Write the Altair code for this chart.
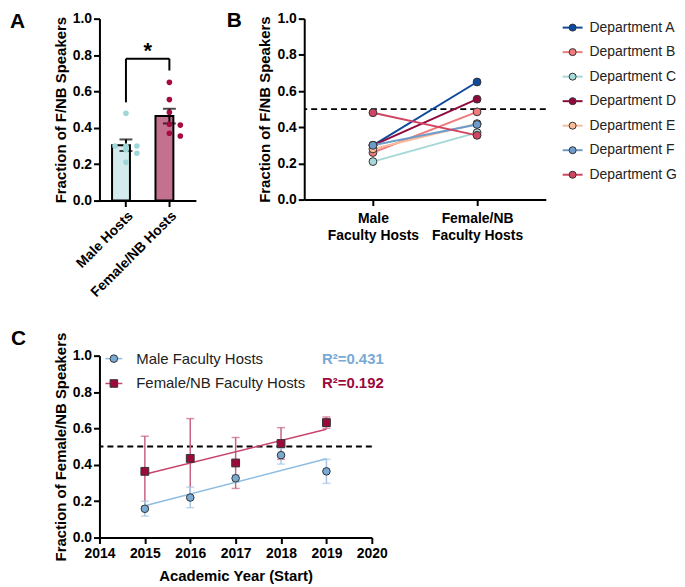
import altair as alt
import pandas as pd

FONT = "Liberation Sans"

# ---------------- data ----------------
departments = ["Department A", "Department B", "Department C", "Department D",
               "Department E", "Department F", "Department G"]
dept_colors = ["#0d4a9e", "#f07b7d", "#a5d8d8", "#8f0a3c", "#f9bb9a", "#6d9ccc", "#d24562"]
male_frac = [0.30, 0.26, 0.21, 0.30, 0.28, 0.30, 0.48]
female_frac = [0.65, 0.485, 0.37, 0.555, 0.42, 0.415, 0.355]

groups_a = ["Male Hosts", "Female/NB Hosts"]
groups_b = ["Male Faculty Hosts", "Female/NB Faculty Hosts"]
bar_fill = ["#d3ebec", "#c47190"]
dot_color = ["#9fd7d9", "#a50a41"]

bracket_top = 0.78
bracket_left_bottom = 0.54
bracket_right_bottom = 0.715

years = [2015, 2016, 2017, 2018, 2019]
male_mean = [0.158, 0.220, 0.326, 0.453, 0.364]
male_lo = [0.118, 0.164, 0.305, 0.404, 0.298]
male_hi = [0.200, 0.277, 0.345, 0.490, 0.430]
female_mean = [0.364, 0.435, 0.410, 0.517, 0.632]
female_lo = [0.171, 0.216, 0.270, 0.430, 0.601]
female_hi = [0.557, 0.654, 0.550, 0.604, 0.663]
series_names = ["Male Faculty Hosts", "Female/NB Faculty Hosts"]
r2_labels = ["R²=0.431", "R²=0.192"]

year_ticks = [2014, 2015, 2016, 2017, 2018, 2019, 2020]
frac_ticks = [0.0, 0.2, 0.4, 0.6, 0.8, 1.0]


def jitter(vals, step=11, tol=0.035):
    order = sorted(range(len(vals)), key=lambda i: -vals[i])
    offs = [0] * len(vals)
    placed = []
    for i in order:
        n = sum(1 for j in placed if abs(vals[j] - vals[i]) < tol)
        offs[i] = [0, step, -step][n % 3]
        placed.append(i)
    return offs


def letter(t, x, y):
    return alt.Chart(pd.DataFrame({"t": [t]})).mark_text(
        fontSize=21, fontWeight="bold", align="left", baseline="alphabetic", color="black").encode(
        x=alt.value(x), y=alt.value(y), text="t:N")


# ---------------- panel A ----------------
WA, HA = 97, 183
A_TITLE = "Fraction of F/NB Speakers"
dfA = pd.DataFrame({
    "group": [groups_a[0]] * len(male_frac) + [groups_a[1]] * len(female_frac),
    "dept": departments + departments,
    "frac": male_frac + female_frac,
    "jit": jitter(male_frac) + jitter(female_frac),
})

xsA = alt.Scale(domain=groups_a, paddingInner=0.36, paddingOuter=0.29)
axA = alt.Axis(title=None, labelAngle=-45, labelFontSize=14)
xA = alt.X("group:N", scale=xsA, axis=axA)
ysA = alt.Scale(domain=[0, 1], nice=False)
ayA = alt.Axis(values=frac_ticks, format=".1f", title=A_TITLE)


def YA(field):
    return alt.Y(field, scale=ysA, axis=ayA)


barsA = alt.Chart(dfA).mark_bar(stroke="black", strokeWidth=2).encode(
    x=xA, y=YA("mean(frac):Q"),
    fill=alt.Fill("group:N", scale=alt.Scale(domain=groups_a, range=bar_fill), legend=None),
)
errA = alt.Chart(dfA).mark_errorbar(extent="stderr", ticks=True, size=13, thickness=2,
                                    color="black").encode(x=xA, y=YA("frac:Q"))
dotsA = alt.Chart(dfA).mark_circle(size=32, opacity=1).encode(
    x=xA, y=YA("frac:Q"),
    xOffset=alt.XOffset("jit:Q", scale=alt.Scale(domain=[-14, 14])),
    color=alt.Color("group:N", scale=alt.Scale(domain=groups_a, range=dot_color), legend=None),
)
brL = alt.Chart(pd.DataFrame({"group": [groups_a[0]], "y1": [bracket_left_bottom],
                              "y2": [bracket_top]})).mark_rule(color="black", strokeWidth=2).encode(
    x=xA, y=YA("y1:Q"), y2="y2:Q")
brR = alt.Chart(pd.DataFrame({"group": [groups_a[1]], "y1": [bracket_right_bottom],
                              "y2": [bracket_top]})).mark_rule(color="black", strokeWidth=2).encode(
    x=xA, y=YA("y1:Q"), y2="y2:Q")
brH = alt.Chart(pd.DataFrame({"group": [groups_a[0]], "g2": [groups_a[1]],
                              "y1": [bracket_top]})).mark_rule(color="black", strokeWidth=2).encode(
    x=xA, x2="g2:N", y=YA("y1:Q"))
star = alt.Chart(pd.DataFrame({"t": ["*"], "y1": [bracket_top]})).mark_text(
    fontSize=22, fontWeight="bold", baseline="alphabetic", dy=-1, color="black").encode(
    x=alt.value(WA / 2), y=YA("y1:Q"), text="t:N")

chartA = alt.layer(barsA, errA, brL, brR, brH, star, dotsA, letter("A", -90, 9)).properties(
    width=WA, height=HA)

# ---------------- panel B ----------------
WB, HB = 243, 182
dfB = pd.DataFrame({
    "dept": departments + departments,
    "host": [groups_b[0]] * len(departments) + [groups_b[1]] * len(departments),
    "frac": male_frac + female_frac,
})
colorB = alt.Color("dept:N", scale=alt.Scale(domain=departments, range=dept_colors), legend=None)
xB = alt.X("host:N", scale=alt.Scale(type="point", domain=groups_b, padding=0.66),
           axis=alt.Axis(title=None, labelAngle=0, labelPadding=6, labelLineHeight=17,
                         labelExpr="datum.value == 'Male Faculty Hosts' ? ['Male', 'Faculty Hosts'] : ['Female/NB', 'Faculty Hosts']"))
refB = alt.Chart(pd.DataFrame({"frac": [0.5]})).mark_rule(
    color="black", strokeWidth=2, strokeDash=[6, 4]).encode(y=YA("frac:Q"))
linesB = alt.Chart(dfB).mark_line(strokeWidth=2).encode(x=xB, y=YA("frac:Q"), color=colorB,
                                                        detail="dept:N")
ptsB = alt.Chart(dfB).mark_circle(size=62, opacity=1, stroke="#333333", strokeWidth=1).encode(
    x=xB, y=YA("frac:Q"), color=colorB)
chartB = alt.layer(refB, linesB, ptsB, letter("B", -78, 8)).properties(width=WB, height=HB)

# legend for B
dfL = pd.DataFrame({"dept": departments})
yL = alt.Y("dept:N", scale=alt.Scale(type="point", domain=departments, range=[9, 157], padding=0),
           axis=None)
legRule = alt.Chart(dfL).mark_rule(strokeWidth=2).encode(
    x=alt.value(0), x2=alt.value(20), y=yL, color=colorB)
legPt = alt.Chart(dfL).mark_circle(size=50, opacity=1, stroke="#333333", strokeWidth=1).encode(
    x=alt.value(10), y=yL, color=colorB)
legTxt = alt.Chart(dfL).mark_text(align="left", baseline="middle", fontSize=14, color="#222222").encode(
    x=alt.value(27), y=yL, text="dept:N")
legendB = alt.layer(legRule, legPt, legTxt).properties(width=112, height=HB)

# ---------------- panel C ----------------
WC, HC = 274, 183
C_TITLE = "Fraction of Female/NB Speakers"
dfM = pd.DataFrame({"year": years, "mean": male_mean, "lo": male_lo, "hi": male_hi})
dfF = pd.DataFrame({"year": years, "mean": female_mean, "lo": female_lo, "hi": female_hi})

xC = alt.X("year:Q", scale=alt.Scale(domain=[2014, 2020], nice=False, zero=False),
           axis=alt.Axis(values=year_ticks, format="d", title="Academic Year (Start)",
                         labelPadding=3, titlePadding=8))
ysc = alt.Scale(domain=[0, 1], nice=False)
ayC = alt.Axis(values=frac_ticks, format=".1f", title=C_TITLE)


def YC(field):
    return alt.Y(field, scale=ysc, axis=ayC)


M_PT, M_LINE, M_ERR = "#78aad4", "#8ebde2", "#a7c7e4"
F_PT, F_LINE, F_ERR = "#9c0a3c", "#c8446b", "#c86482"

refC = alt.Chart(pd.DataFrame({"mean": [0.5]})).mark_rule(
    color="black", strokeWidth=2, strokeDash=[6, 4]).encode(y=YC("mean:Q"))


def err_layer(df, col):
    return alt.Chart(df).mark_errorbar(ticks=True, size=8, thickness=1.5, color=col).encode(
        x=xC, y=YC("lo:Q"), y2="hi:Q")


def reg_layer(df, col):
    return alt.Chart(df).transform_regression("year", "mean").mark_line(
        color=col, strokeWidth=1.5).encode(x=xC, y=YC("mean:Q"))


ptsM = alt.Chart(dfM).mark_point(shape="circle", filled=True, fill=M_PT, stroke="#333333",
                                 strokeWidth=1, size=58, opacity=1).encode(x=xC, y=YC("mean:Q"))
ptsF = alt.Chart(dfF).mark_point(shape="square", filled=True, fill=F_PT, stroke="#333333",
                                 strokeWidth=1, size=62, opacity=1).encode(x=xC, y=YC("mean:Q"))

one = pd.DataFrame({"k": [0]})
legC = []
for i, (name, line_c, pt_c, shp) in enumerate([(series_names[0], M_LINE, M_PT, "circle"),
                                                (series_names[1], F_LINE, F_PT, "square")]):
    yy = 3 + 25 * i
    legC.append(alt.Chart(one).mark_rule(color=line_c, strokeWidth=1.5).encode(
        x=alt.value(6), x2=alt.value(23), y=alt.value(yy)))
    legC.append(alt.Chart(one).mark_point(shape=shp, filled=True, fill=pt_c, stroke="#333333",
                                          strokeWidth=1, size=58, opacity=1).encode(
        x=alt.value(14.5), y=alt.value(yy)))
    legC.append(alt.Chart(pd.DataFrame({"t": [name]})).mark_text(
        align="left", baseline="middle", fontSize=15, color="#222222").encode(
        x=alt.value(37), y=alt.value(yy), text="t:N"))
    legC.append(alt.Chart(pd.DataFrame({"t": [r2_labels[i]]})).mark_text(
        align="right", baseline="middle", fontSize=15, fontWeight="bold",
        color=[M_PT, F_PT][i]).encode(x=alt.value(286), y=alt.value(yy), text="t:N"))

chartC = alt.layer(refC, err_layer(dfF, F_ERR), err_layer(dfM, M_ERR),
                   reg_layer(dfM, M_LINE), reg_layer(dfF, F_LINE),
                   ptsM, ptsF, *legC, letter("C", -89, -11)).properties(width=WC, height=HC)

# ---------------- compose ----------------
indep = dict(color="independent", fill="independent", x="independent", y="independent")
right = alt.hconcat(chartB, legendB, spacing=15).resolve_scale(**indep)
top = alt.hconcat(chartA, right, spacing=31).resolve_scale(**indep)
chart = alt.vconcat(top, chartC, spacing=28).properties(
    padding={"left": 2, "top": 0, "right": 0, "bottom": 0}).resolve_scale(**indep
).configure_view(stroke=None).configure_axis(
    domainColor="black", domainWidth=2, tickColor="black", tickWidth=2, tickSize=6,
    labelColor="black", labelFont=FONT, labelFontSize=14, labelFontWeight="bold",
    labelPadding=2, labelOverlap=False, labelFlush=False,
    titleFont=FONT, titleFontSize=15, titleFontWeight="bold",
    titleColor="black", titlePadding=4, grid=False
).configure_text(font=FONT)

chart.save("out.html", embed_options={"renderer": "svg", "actions": False})
